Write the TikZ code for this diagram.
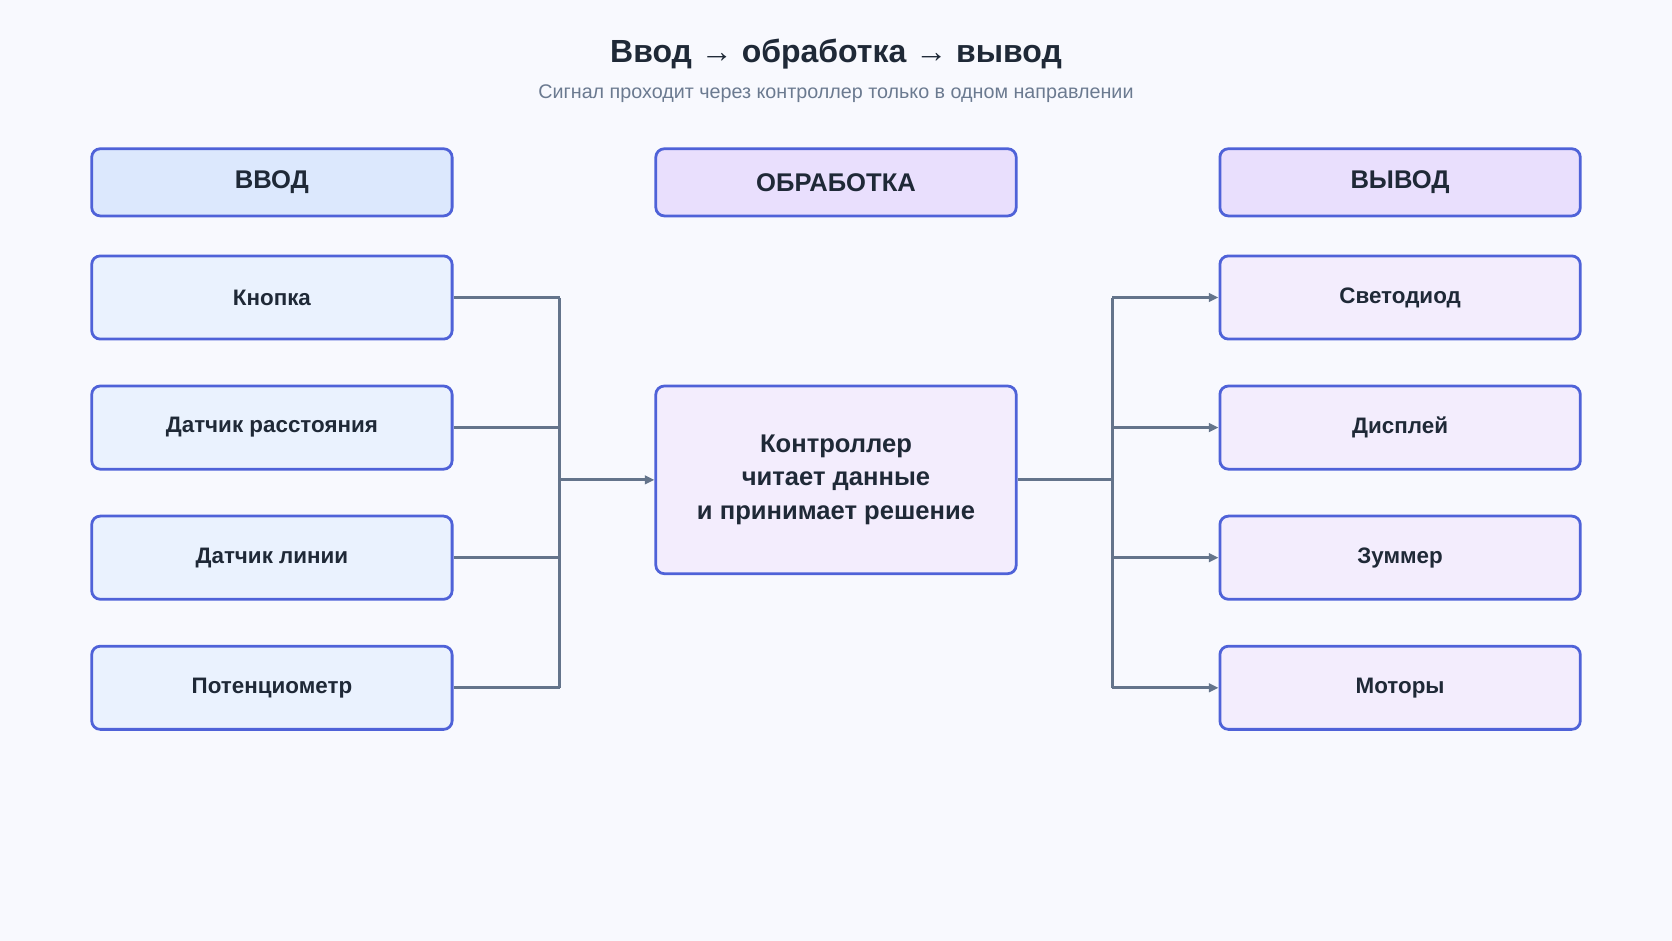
\documentclass[tikz,border=0pt]{standalone}
\usepackage{fontspec}
\setmainfont{Liberation Sans}
\usetikzlibrary{arrows.meta}
\definecolor{bg}{HTML}{F8F9FE}
\definecolor{bd}{HTML}{4F62D8}
\definecolor{hin}{HTML}{DCE8FD}
\definecolor{hpr}{HTML}{E9DFFD}
\definecolor{iin}{HTML}{EAF2FE}
\definecolor{iout}{HTML}{F3EDFD}
\definecolor{ln}{HTML}{64748B}
\definecolor{tx}{HTML}{1F2937}
\definecolor{sub}{HTML}{6B7A90}
\begin{document}
\begin{tikzpicture}[x=1pt,y=-1pt,
  box/.style={draw=bd,line width=2.6pt,rounded corners=8pt,minimum width=338pt,text=tx,font=\bfseries\fontsize{21}{25}\selectfont,align=center},
  head/.style={box,minimum height=63pt,font=\bfseries\fontsize{24}{28}\selectfont},
  item/.style={box,minimum height=78pt},
  wire/.style={draw=ln,line width=2.6pt},
  arr/.style={wire,-{Triangle[length=9pt,width=8pt]}}]
\fill[bg] (0,0) rectangle (1568,882);
\useasboundingbox (0,0) rectangle (1568,882);
\node[font=\bfseries\fontsize{30}{34}\selectfont,text=tx] (title) at (784,51) {Ввод → обработка → вывод};
\node[font=\fontsize{18.5}{22}\selectfont,text=sub] (subt) at (784,88) {Сигнал проходит через контроллер только в одном направлении};
\node[head,fill=hin] (hin) at (255,171) {ВВОД};
\node[head,fill=hpr] (hpr) at (784,171) {ОБРАБОТКА};
\node[head,fill=hpr] (hout) at (1313,171) {ВЫВОД};
\node[item,fill=iin] (i1) at (255,279) {Кнопка};
\node[item,fill=iin] (i2) at (255,401) {Датчик расстояния};
\node[item,fill=iin] (i3) at (255,523) {Датчик линии};
\node[item,fill=iin] (i4) at (255,645) {Потенциометр};
\node[box,fill=iout,minimum height=176pt,font=\bfseries\fontsize{24}{31}\selectfont] (c) at (784,450) {Контроллер\\читает данные\\и принимает решение};
\node[item,fill=iout] (o1) at (1313,279) {Светодиод};
\node[item,fill=iout] (o2) at (1313,401) {Дисплей};
\node[item,fill=iout] (o3) at (1313,523) {Зуммер};
\node[item,fill=iout] (o4) at (1313,645) {Моторы};
\coordinate (lb) at (525,450);
\coordinate (rb) at (1043,450);
\foreach \n in {i1,i2,i3,i4} \draw[wire] (\n.east) -- (lb |- \n.east);
\draw[wire] (lb |- i1.east) -- (lb |- i4.east);
\draw[arr] (lb) -- (c.west);
\draw[wire] (c.east) -- (rb);
\draw[wire] (rb |- o1.west) -- (rb |- o4.west);
\foreach \n in {o1,o2,o3,o4} \draw[arr] (rb |- \n.west) -- (\n.west);
\end{tikzpicture}
\end{document}
